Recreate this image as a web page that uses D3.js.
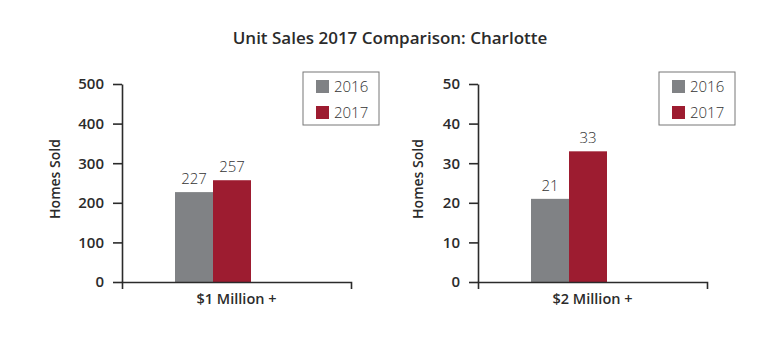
<!DOCTYPE html>
<html>
<head>
<meta charset="utf-8">
<script src="https://cdn.jsdelivr.net/npm/d3@7"></script>
<style>
  body { margin: 0; background: #fff; }
  svg { display: block; font-family: "Open Sans", "DejaVu Sans", sans-serif; }
</style>
</head>
<body>
<svg id="chart" width="768" height="356"></svg>
<script>
// ---- data ----
const title = "Unit Sales 2017 Comparison: Charlotte";
const categories = ["$1 Million +", "$2 Million +"];
const years = ["2016", "2017"];
const values2016 = [227, 21];
const values2017 = [257, 33];
const yMaxes = [500, 50];
const yTicksLeft = [0, 100, 200, 300, 400, 500];
const yTicksRight = [0, 10, 20, 30, 40, 50];
const yLabel = "Homes Sold";

// ---- style / layout ----
const colors = { "2016": "#808285", "2017": "#9d1c30" };
const axisColor = "#2b2b2b";
const svg = d3.select("#chart");

svg.append("text")
  .attr("x", 390).attr("y", 44)
  .attr("text-anchor", "middle")
  .attr("font-size", 17).attr("font-weight", 600)
  .attr("fill", "#2b2b2b")
  .text(title);

const panels = [
  { left: 122, ticks: yTicksLeft, labelX: -62 },
  { left: 478, ticks: yTicksRight, labelX: -55 }
];
const plotTop = 84, plotH = 198, plotW = 229;

categories.forEach((cat, i) => {
  const p = panels[i];
  const g = svg.append("g").attr("transform", `translate(${p.left},${plotTop})`);
  const y = d3.scaleLinear().domain([0, yMaxes[i]]).range([plotH, 0]);
  const x = d3.scaleBand().domain([cat]).range([0, plotW]);
  const xs = d3.scaleBand().domain(years).range([53, 129]);

  const rows = years.map(yr => ({ year: yr, value: (yr === "2016" ? values2016 : values2017)[i] }));

  // bars
  g.selectAll("rect.bar").data(rows).join("rect")
    .attr("class", "bar")
    .attr("x", d => xs(d.year))
    .attr("width", xs.bandwidth())
    .attr("y", d => y(d.value))
    .attr("height", d => plotH - y(d.value))
    .attr("fill", d => colors[d.year]);

  // value labels
  g.selectAll("text.val").data(rows).join("text")
    .attr("class", "val")
    .attr("x", d => xs(d.year) + xs.bandwidth() / 2)
    .attr("y", d => y(d.value) - 8)
    .attr("text-anchor", "middle")
    .attr("font-size", 15).attr("font-weight", 300)
    .attr("fill", "#333")
    .text(d => d.value);

  // y axis
  const ya = g.append("g")
    .call(d3.axisLeft(y).tickValues(p.ticks).tickSizeInner(9).tickSizeOuter(0).tickPadding(9));
  ya.select(".domain").attr("stroke", axisColor).attr("stroke-width", 1.6);
  ya.selectAll(".tick line").attr("stroke", axisColor).attr("stroke-width", 1.6);
  ya.selectAll(".tick text").attr("font-size", 15).attr("font-weight", 600)
    .attr("fill", "#2b2b2b").attr("font-family", "'Open Sans', sans-serif");

  // x axis
  const xa = g.append("g").attr("transform", `translate(0,${plotH})`)
    .call(d3.axisBottom(x).tickSizeInner(0).tickSizeOuter(7).tickPadding(12));
  xa.select(".domain").attr("stroke", axisColor).attr("stroke-width", 1.6);
  xa.selectAll(".tick line").remove();
  xa.selectAll(".tick text").attr("font-size", 14.5).attr("font-weight", 600)
    .attr("fill", "#2b2b2b").attr("font-family", "'Open Sans', sans-serif");

  // y label
  g.append("text")
    .attr("transform", `translate(${p.labelX},${plotH / 2 - 4}) rotate(-90)`)
    .attr("text-anchor", "middle")
    .attr("font-size", 14).attr("font-weight", 600)
    .attr("fill", "#2b2b2b")
    .text(yLabel);

  // legend
  const lg = g.append("g").attr("transform", `translate(${plotW - 48},${-12})`);
  lg.append("rect").attr("x", 0).attr("y", 0).attr("width", 76).attr("height", 53)
    .attr("fill", "#fff").attr("stroke", "#777").attr("stroke-width", 1);
  years.forEach((yr, j) => {
    lg.append("rect").attr("x", 13).attr("y", 8 + j * 26).attr("width", 13).attr("height", 13)
      .attr("fill", colors[yr]);
    lg.append("text").attr("x", 31).attr("y", 20 + j * 26)
      .attr("font-size", 15).attr("font-weight", 300).attr("fill", "#333")
      .text(yr);
  });
});
</script>
</body>
</html>
